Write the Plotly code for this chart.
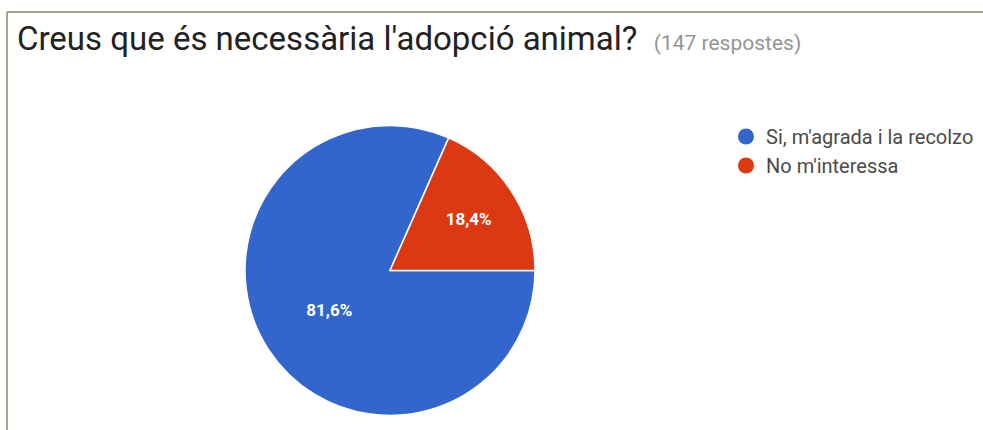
'''
    Pie chart of the survey answers about animal adoption.
'''
import plotly.graph_objects as go

W, H = 983, 430

labels = ["Si, m'agrada i la recolzo", "No m'interessa"]
counts = [120, 27]
colors = ['#3366cc', '#dc3912']

TITLE = "Creus que és necessària l'adopció animal?"
SUBTITLE = "(147 respostes)"

fig = go.Figure()
fig.add_trace(go.Pie(
    labels=labels,
    values=counts,
    sort=False,
    direction='clockwise',
    rotation=90,
    marker=dict(colors=colors, line=dict(color='white', width=1.5)),
    texttemplate='%{percent:.1%}',
    textposition='inside',
    insidetextorientation='horizontal',
    textfont=dict(family='Roboto, Arial', size=17, color='white', weight='bold'),
    hoverinfo='label+percent',
    showlegend=False,
    domain=dict(x=[245 / W, 535 / W], y=[1 - 416 / H, 1 - 125 / H]),
))

# legend entries with round markers, like the Google Forms summary
for name, c in zip(labels, colors):
    fig.add_trace(go.Scatter(
        x=[None], y=[None], mode='markers', name=name,
        marker=dict(symbol='circle', size=16, color=c),
    ))

# frame lines of the screenshot
frame = '#a3a38e'
fig.add_shape(type='line', xref='paper', yref='paper',
              x0=7 / W, x1=7 / W, y0=0, y1=1 - 12 / H,
              line=dict(color=frame, width=2))
fig.add_shape(type='line', xref='paper', yref='paper',
              x0=7 / W, x1=1, y0=1 - 12 / H, y1=1 - 12 / H,
              line=dict(color=frame, width=2))

fig.update_layout(
    width=W, height=H,
    margin=dict(l=0, r=0, t=0, b=0),
    paper_bgcolor='white',
    plot_bgcolor='white',
    separators=',.',
    font=dict(family='Roboto, Arial', color='#444'),
    title=dict(
        text=TITLE + "  <span style='font-size:21px;color:#949494'>" + SUBTITLE + "</span>",
        x=17 / W, xanchor='left',
        y=1 - 38 / H, yanchor='middle',
        font=dict(family='Roboto, Arial', size=33, color='#222'),
    ),
    xaxis=dict(visible=False),
    yaxis=dict(visible=False),
    legend=dict(
        x=726 / W, xanchor='left',
        y=1 - 117 / H, yanchor='top',
        font=dict(family='Roboto, Arial', size=20, color='#4a4a4a'),
        bgcolor='rgba(0,0,0,0)',
    ),
)

fig.write_html("out.html",
               config={'displayModeBar': False},
               post_script="document.body.style.margin='0';"
                           "document.body.style.overflow='hidden';")
